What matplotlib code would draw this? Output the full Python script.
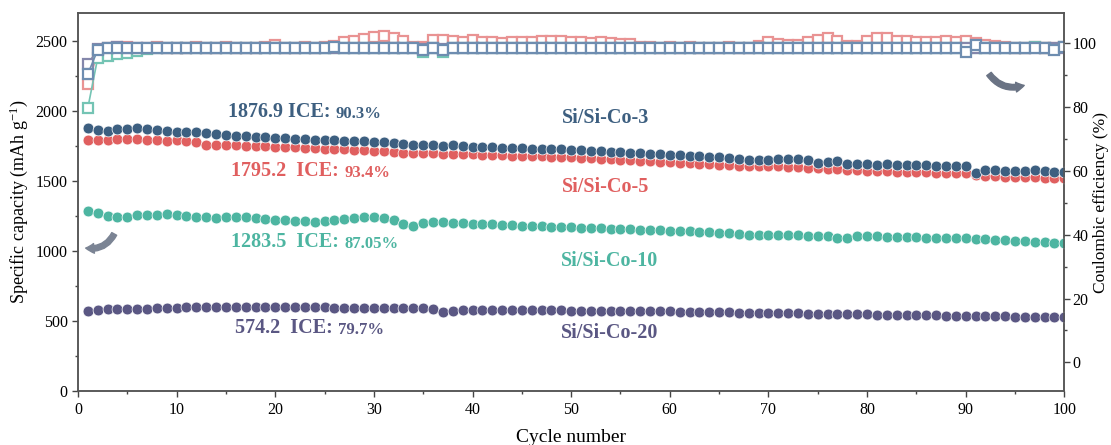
import numpy as np
import matplotlib
matplotlib.use("Agg")
import matplotlib.pyplot as plt
from matplotlib.ticker import MultipleLocator
from matplotlib.patches import FancyArrowPatch

plt.rcParams['font.family'] = ['Liberation Serif', 'DejaVu Serif']
plt.rcParams['mathtext.default'] = 'regular'

cycles = np.arange(1, 101)

# specific capacity (mAh/g)
cap3 = [1877, 1866, 1860, 1868, 1872, 1875, 1870, 1862, 1855, 1852,
        1850, 1848, 1840, 1833, 1826, 1820, 1818, 1815, 1812, 1808,
        1805, 1800, 1797, 1795, 1790, 1792, 1788, 1783, 1785, 1780,
        1776, 1772, 1765, 1760, 1757, 1756, 1753, 1755, 1750, 1746,
        1743, 1740, 1738, 1735, 1733, 1730, 1728, 1727, 1725, 1722,
        1719, 1716, 1712, 1708, 1706, 1700, 1697, 1693, 1690, 1688,
        1685, 1682, 1678, 1674, 1670, 1665, 1655, 1652, 1650, 1652,
        1655, 1657, 1658, 1650, 1630, 1638, 1640, 1625, 1620, 1618,
        1616, 1618, 1614, 1612, 1615, 1612, 1608, 1606, 1605, 1608,
        1560, 1578, 1576, 1574, 1575, 1572, 1576, 1570, 1567, 1564]
cap5 = [1795, 1790, 1793, 1798, 1800, 1798, 1796, 1790, 1788, 1790,
        1786, 1782, 1755, 1760, 1758, 1755, 1752, 1750, 1748, 1745,
        1742, 1740, 1738, 1735, 1730, 1728, 1726, 1722, 1720, 1716,
        1712, 1708, 1703, 1700, 1698, 1697, 1695, 1694, 1692, 1690,
        1688, 1686, 1684, 1682, 1680, 1677, 1675, 1672, 1670, 1668,
        1665, 1662, 1658, 1655, 1652, 1650, 1646, 1642, 1638, 1635,
        1632, 1628, 1624, 1620, 1616, 1612, 1608, 1610, 1607, 1606,
        1604, 1600, 1597, 1594, 1590, 1587, 1584, 1580, 1577, 1574,
        1570, 1568, 1566, 1565, 1563, 1562, 1560, 1558, 1556, 1555,
        1540, 1535, 1533, 1531, 1530, 1528, 1526, 1525, 1523, 1520]
cap10 = [1283, 1275, 1252, 1245, 1240, 1255, 1258, 1260, 1262, 1258,
         1250, 1245, 1240, 1238, 1240, 1245, 1242, 1238, 1232, 1225,
         1220, 1215, 1212, 1210, 1215, 1225, 1232, 1238, 1240, 1242,
         1235, 1220, 1195, 1180, 1200, 1210, 1206, 1200, 1198, 1195,
         1192, 1190, 1187, 1185, 1182, 1180, 1178, 1175, 1172, 1170,
         1168, 1165, 1163, 1160, 1157, 1155, 1152, 1150, 1147, 1145,
         1142, 1140, 1137, 1135, 1132, 1130, 1120, 1118, 1115, 1118,
         1115, 1112, 1113, 1110, 1108, 1106, 1095, 1090, 1105, 1110,
         1108, 1102, 1100, 1098, 1097, 1096, 1095, 1093, 1092, 1090,
         1088, 1084, 1080, 1077, 1074, 1070, 1066, 1063, 1060, 1057]
cap20 = [574, 580, 583, 586, 588, 588, 590, 591, 594, 596,
         598, 599, 600, 601, 602, 603, 603, 604, 604, 603,
         602, 601, 600, 599, 598, 597, 596, 596, 595, 595,
         595, 594, 594, 593, 593, 590, 566, 575, 580, 580,
         580, 579, 579, 578, 578, 577, 577, 576, 576, 575,
         575, 574, 574, 573, 573, 572, 572, 571, 571, 570,
         568, 567, 566, 565, 563, 562, 561, 560, 559, 558,
         557, 556, 555, 554, 553, 552, 551, 550, 549, 548,
         547, 546, 545, 544, 543, 542, 541, 540, 539, 538,
         537, 536, 535, 534, 532, 531, 530, 529, 528, 527]

# coulombic efficiency (%)
ce_red = [87.05, 97.0, 98.4, 98.8, 98.6, 98.5, 98.5, 98.6, 98.5, 98.5,
          98.5, 98.6, 98.5, 98.5, 98.6, 98.5, 98.5, 98.5, 98.6, 99.2,
          98.5, 98.5, 98.6, 98.5, 98.8, 99.0, 100.2, 100.7, 101.2, 101.8,
          102.3, 101.5, 100.6, 98.6, 98.8, 101.0, 101.0, 100.6, 100.4, 100.8,
          100.2, 100.4, 100.1, 100.2, 100.4, 100.3, 100.5, 100.6, 100.5, 100.3,
          100.2, 100.1, 100.2, 100.0, 99.8, 99.6, 98.8, 98.6, 98.5, 98.6,
          98.5, 98.6, 98.5, 98.5, 98.5, 98.6, 98.5, 98.5, 99.0, 100.3,
          99.8, 99.5, 99.3, 100.2, 101.0, 101.5, 100.5, 99.0, 98.9, 100.6,
          101.6, 101.5, 100.6, 100.5, 100.4, 100.4, 100.4, 100.5, 100.4, 100.6,
          100.1, 99.5, 99.0, 98.6, 98.5, 98.5, 98.6, 98.5, 98.5, 98.6]
ce_teal = [79.7, 95.3, 96.0, 96.5, 97.0, 97.6, 98.1, 98.4, 98.5, 98.5,
           98.5, 98.5, 98.5, 98.5, 98.5, 98.5, 98.5, 98.5, 98.5, 98.5,
           98.5, 98.5, 98.5, 98.5, 98.5, 98.5, 98.5, 98.5, 98.5, 98.5,
           98.5, 98.5, 98.4, 98.3, 97.2, 98.3, 97.3, 98.3, 98.5, 98.5,
           98.5, 98.5, 98.5, 98.5, 98.5, 98.5, 98.5, 98.5, 98.5, 98.5,
           98.5, 98.5, 98.5, 98.5, 98.5, 98.5, 98.5, 98.5, 98.5, 98.5,
           98.5, 98.5, 98.5, 98.5, 98.5, 98.5, 98.5, 98.5, 98.5, 98.5,
           98.5, 98.5, 98.5, 98.5, 98.5, 98.5, 98.5, 98.5, 98.5, 98.5,
           98.5, 98.5, 98.5, 98.5, 98.5, 98.5, 98.5, 98.5, 98.5, 98.4,
           98.5, 98.5, 98.5, 98.5, 98.5, 98.5, 98.6, 98.5, 98.2, 98.6]
ce_purple = [93.4, 98.0, 98.5, 98.6, 98.5, 98.5, 98.5, 98.5, 98.5, 98.5,
             98.5, 98.5, 98.5, 98.5, 98.5, 98.5, 98.5, 98.5, 98.5, 98.5,
             98.5, 98.5, 98.5, 98.5, 98.5, 98.5, 98.5, 98.5, 98.5, 98.5,
             98.5, 98.5, 98.5, 98.5, 98.2, 98.5, 98.2, 98.5, 98.5, 98.5,
             98.5, 98.5, 98.5, 98.5, 98.5, 98.5, 98.5, 98.5, 98.5, 98.5,
             98.5, 98.5, 98.5, 98.5, 98.5, 98.5, 98.5, 98.5, 98.5, 98.5,
             98.5, 98.5, 98.5, 98.5, 98.5, 98.5, 98.5, 98.5, 98.5, 98.5,
             98.5, 98.5, 98.5, 98.5, 98.5, 98.5, 98.5, 98.5, 98.5, 98.5,
             98.5, 98.5, 98.5, 98.5, 98.5, 98.5, 98.5, 98.5, 98.5, 98.5,
             98.5, 98.5, 98.5, 98.5, 98.5, 98.5, 98.5, 98.5, 98.5, 98.5]
ce_blue = [90.3, 97.8, 98.3, 98.5, 98.4, 98.5, 98.5, 98.5, 98.5, 98.5,
           98.5, 98.5, 98.5, 98.5, 98.5, 98.5, 98.5, 98.5, 98.5, 98.5,
           98.5, 98.5, 98.5, 98.5, 98.5, 98.6, 98.5, 98.5, 98.5, 98.5,
           98.5, 98.5, 98.3, 98.3, 97.8, 98.3, 97.8, 98.4, 98.5, 98.5,
           98.5, 98.5, 98.5, 98.5, 98.5, 98.5, 98.5, 98.5, 98.5, 98.5,
           98.5, 98.5, 98.5, 98.5, 98.5, 98.5, 98.5, 98.5, 98.5, 98.5,
           98.5, 98.5, 98.5, 98.5, 98.5, 98.5, 98.5, 98.5, 98.5, 98.5,
           98.5, 98.5, 98.5, 98.5, 98.5, 98.5, 98.5, 98.5, 98.5, 98.5,
           98.5, 98.5, 98.5, 98.5, 98.5, 98.5, 98.5, 98.5, 98.5, 97.3,
           99.3, 98.5, 98.5, 98.5, 98.5, 98.5, 98.5, 98.5, 97.8, 98.6]

first_cap = ['1876.9', '1795.2', '1283.5', '574.2']
ice = ['90.3%', '93.4%', '87.05%', '79.7%']
names = ['Si/Si-Co-3', 'Si/Si-Co-5', 'Si/Si-Co-10', 'Si/Si-Co-20']

c3, c5, c10, c20 = '#3d5f80', '#e05f5f', '#4db5a1', '#5a5783'

fig = plt.figure(figsize=(11.11, 4.45), dpi=100)
ax = fig.add_axes([0.0702, 0.121, 0.8878, 0.850])
ax2 = ax.twinx()

for y, c in [(cap20, c20), (cap10, c10), (cap5, c5), (cap3, c3)]:
    ax.plot(cycles, y, 'o', ms=7.8, color=c, mec='white', mew=0.5, zorder=3)

for y, c in [(ce_red, '#e99393'), (ce_teal, '#74c4b4'), (ce_purple, '#8487ab'), (ce_blue, '#6e8db0')]:
    ax2.plot(cycles, y, '-s', ms=7.2, color=c, mfc='white', mec=c, mew=1.6, lw=1.2)

ax.set_xlim(0, 100)
ax.set_ylim(0, 2700)
ax2.set_ylim(-9, 109.4)
ax.xaxis.set_major_locator(MultipleLocator(10))
ax.xaxis.set_minor_locator(MultipleLocator(5))
ax.yaxis.set_major_locator(MultipleLocator(500))
ax.yaxis.set_minor_locator(MultipleLocator(250))
ax2.yaxis.set_major_locator(MultipleLocator(20))
ax2.yaxis.set_minor_locator(MultipleLocator(10))
ax2.set_yticks([0, 20, 40, 60, 80, 100])

for a in (ax, ax2):
    a.tick_params(which='major', direction='out', length=4, width=1, color='#444444', labelsize=11.5)
    a.tick_params(which='minor', direction='out', length=2.5, width=1, color='#444444')
    for s in a.spines.values():
        s.set_color('#555555')
        s.set_linewidth(1.1)
ax2.tick_params(axis='y', pad=2)

ax.set_xlabel('Cycle number', fontsize=14, labelpad=8)
ax.set_ylabel('Specific capacity (mAh g$^{-1}$)', fontsize=13, labelpad=4)
ax2.set_ylabel('Coulombic efficiency (%)', fontsize=12.5)
ax2.yaxis.set_label_coords(1.029, 0.5)

# annotations: first-cycle capacity + ICE
colors = [c3, c5, c10, c20]
num_pos = [(15.2, 1921), (15.5, 1500), (15.5, 993), (15.9, 378)]
gaps = [' ', '  ', '  ', '  ']
for (x, y), cap, g, pct, c in zip(num_pos, first_cap, gaps, ice, colors):
    t = ax.text(x, y, cap + g + 'ICE:', color=c, fontsize=14.5, fontweight='bold', va='bottom')
    ax.annotate(pct, xy=(1, 0), xycoords=t, xytext=(4, 0), textcoords='offset points',
                color=c, fontsize=12, fontweight='bold', va='bottom')

name_pos = [(49.1, 1914), (49.1, 1421), (49.0, 893), (49.0, 379)]
for (x, y), n, c in zip(name_pos, names, colors):
    ax.text(x, y, n, color=c, fontsize=14.5, fontweight='bold')

# curved arrows
arr1 = FancyArrowPatch((3.8, 1140), (0.5, 1025), connectionstyle='arc3,rad=-0.4',
                       arrowstyle='simple,head_width=7,head_length=6,tail_width=4',
                       color='#7b8494', zorder=4)
ax.add_patch(arr1)
arr2 = FancyArrowPatch((92.2, 91.0), (96.2, 87.0), connectionstyle='arc3,rad=0.4',
                       arrowstyle='simple,head_width=7,head_length=6,tail_width=4',
                       color='#6a7384', zorder=4)
ax2.add_patch(arr2)

fig.savefig('out.png', dpi=100)
